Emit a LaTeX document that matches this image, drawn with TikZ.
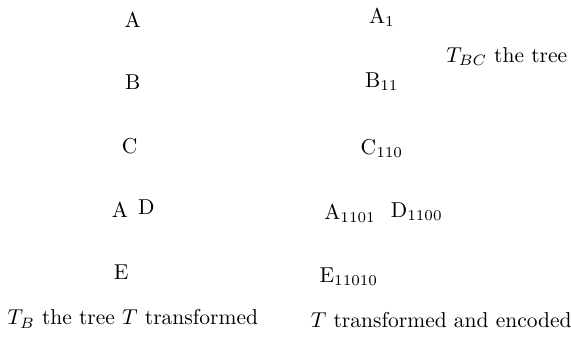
\documentclass[tikz,border=0pt]{standalone}
\usepackage{tikz}

\begin{document}
\begin{tikzpicture}[key/.style={inner sep=1pt}, caption/.style={inner sep=1pt}]
	\useasboundingbox (0,0) rectangle (9.33,5.57);

	% The transformed tree, keys only.
	\node[key] (a) at (2.17,5.25) {A};
	\node[key] (b) at (2.17,4.23) {B};
	\node[key] (c) at (2.12,3.19) {C};
	\node[key] (a2) at (1.96,2.14) {A};
	\node[key] (d) at (2.39,2.19) {D};
	\node[key] (e) at (1.98,1.13) {E};
	\node[caption] (capB) at (2.17,0.36) {$T_B$ the tree $T$ transformed};

	% The same tree with the codes as subscripts.
	\node[key] (a1) at (6.24,5.29) {A$_{1}$};
	\node[caption] (capBC) at (8.28,4.64) {$T_{BC}$ the tree};
	\node[key] (b11) at (6.24,4.23) {B$_{11}$};
	\node[key] (c110) at (6.24,3.15) {C$_{110}$};
	\node[key] (a1101) at (5.72,2.09) {A$_{1101}$};
	\node[key] (d1100) at (6.81,2.11) {D$_{1100}$};
	\node[key] (e11010) at (5.70,1.05) {E$_{11010}$};
	\node[caption] (capT) at (7.21,0.34) {$T$ transformed and encoded};
\end{tikzpicture}
\end{document}
